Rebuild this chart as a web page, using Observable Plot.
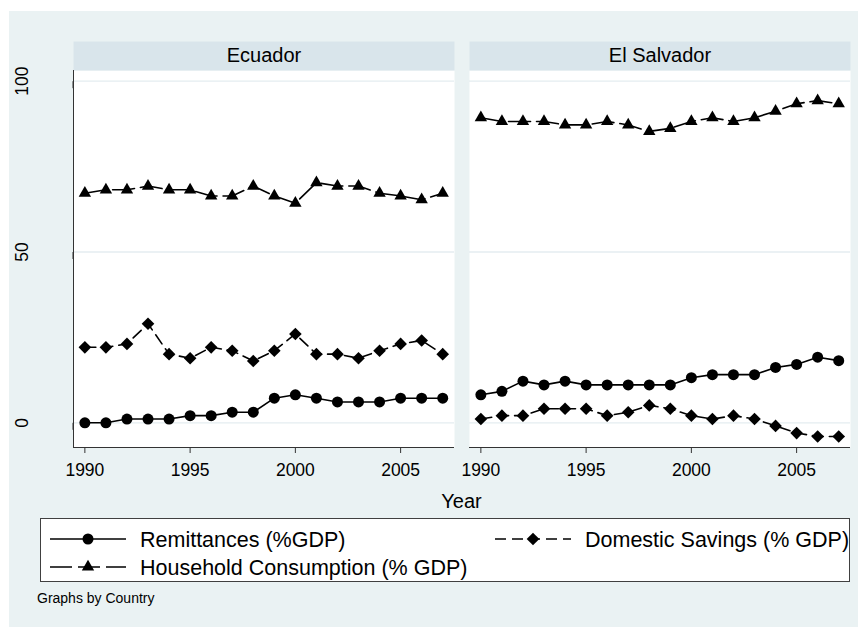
<!DOCTYPE html>
<html>
<head>
<meta charset="utf-8">
<script src="https://cdn.jsdelivr.net/npm/d3@7"></script>
<script src="https://cdn.jsdelivr.net/npm/@observablehq/plot@0.6"></script>
<style>
  body { margin: 0; background: #ffffff; font-family: "Liberation Sans", Arial, Helvetica, sans-serif; }
  #wrap { position: relative; width: 867px; height: 637px; overflow: hidden; }
  #bg { position: absolute; left: 9px; top: 11px; width: 849px; height: 616px; background: #eaf2f3; }
  #chart { position: absolute; left: 0; top: 0; }
  #xtitle { position: absolute; left: 73px; width: 777px; top: 489px; text-align: center; font-size: 20px; line-height: 24px; color: #000; }
  #legend { position: absolute; left: 40px; top: 518px; }
  #caption { position: absolute; left: 37px; top: 590px; font-size: 14px; line-height: 17px; color: #000; }
</style>
</head>
<body>
<div id="wrap">
  <div id="bg"></div>
  <div id="chart"></div>
  <div id="xtitle">Year</div>
  <div id="legend"></div>
  <div id="caption">Graphs by Country</div>
</div>
<script>
// ---------- data ----------
const years = [1990, 1991, 1992, 1993, 1994, 1995, 1996, 1997, 1998, 1999, 2000, 2001, 2002, 2003, 2004, 2005, 2006, 2007];
const countries = ["Ecuador", "El Salvador"];
const seriesNames = ["Remittances (%GDP)", "Domestic Savings (% GDP)", "Household Consumption (% GDP)"];

const ecuadorRemittances  = [0, 0, 1.1, 1.1, 1.1, 2.1, 2.1, 3.1, 3.1, 7.2, 8.2, 7.2, 6.1, 6.1, 6.1, 7.2, 7.2, 7.2];
const ecuadorSavings      = [22.1, 22.1, 23.1, 29.0, 20.1, 18.9, 22.1, 21.1, 18.1, 21.1, 26.0, 20.1, 20.1, 18.9, 21.1, 23.1, 24.1, 20.1];
const ecuadorConsumption  = [67.2, 68.2, 68.2, 69.3, 68.2, 68.2, 66.4, 66.4, 69.3, 66.4, 64.3, 70.3, 69.3, 69.3, 67.2, 66.4, 65.3, 67.2];

const salvadorRemittances = [8.2, 9.2, 12.2, 11.1, 12.2, 11.1, 11.1, 11.1, 11.1, 11.1, 13.2, 14.1, 14.1, 14.1, 16.2, 17.1, 19.2, 18.2];
const salvadorSavings     = [1.1, 2.1, 2.1, 4.1, 4.1, 4.1, 2.1, 3.1, 5.1, 4.1, 2.1, 1.1, 2.1, 1.1, -0.9, -3.0, -4.0, -4.0];
const salvadorConsumption = [89.3, 88.2, 88.2, 88.2, 87.2, 87.2, 88.2, 87.2, 85.3, 86.2, 88.2, 89.3, 88.2, 89.3, 91.2, 93.4, 94.3, 93.4];

const xTicks = [1990, 1995, 2000, 2005];
const yTicks = [0, 50, 100];

// ---------- table ----------
const valuesBy = {
  "Ecuador": [ecuadorRemittances, ecuadorSavings, ecuadorConsumption],
  "El Salvador": [salvadorRemittances, salvadorSavings, salvadorConsumption]
};
const rows = [];
countries.forEach(c => {
  seriesNames.forEach((s, si) => {
    years.forEach((y, i) => rows.push({country: c, series: s, year: y, value: valuesBy[c][si][i]}));
  });
});

// ---------- styles ----------
const styles = {
  [seriesNames[0]]: {symbol: "circle",   r: 5.5, dash: null},
  [seriesNames[1]]: {symbol: "diamond2", r: 5.7, dash: "11,6"},
  [seriesNames[2]]: {symbol: "triangle", r: 4.6, dash: "22,6"}
};
const ink = "#000000";
const axisInk = "#333333";
const gridColor = "#e4edf0";
const stripColor = "#d9e5eb";
const fontFamily = '"Liberation Sans", Arial, Helvetica, sans-serif';

const W = 867, H = 637;
const plotTop = 70, plotBottom = 447, left = 73, right = 850;
const xDomain = [1989.46, 2007.56];
const yDomain = [-7.23, 103.13];

const seriesMarks = seriesNames.flatMap(s => {
  const d = rows.filter(r => r.series === s);
  const st = styles[s];
  return [
    Plot.line(d, {fx: "country", x: "year", y: "value", stroke: ink, strokeWidth: 1.6,
                  strokeDasharray: st.dash || undefined}),
    Plot.dot(d, {fx: "country", x: "year", y: "value", symbol: st.symbol, r: st.r,
                 fill: ink, stroke: "none"})
  ];
});

const chart = Plot.plot({
  width: W,
  height: H,
  marginLeft: left,
  marginRight: W - right,
  marginTop: plotTop,
  marginBottom: H - plotBottom,
  style: {background: "transparent", fontFamily, color: ink, overflow: "visible"},
  x: {domain: xDomain},
  y: {domain: yDomain},
  fx: {domain: countries, paddingInner: 15 / 396, paddingOuter: 0, axis: null},
  marks: [
    Plot.frame({fill: "white", stroke: "none"}),
    Plot.frame({fill: stripColor, stroke: "none", insetTop: -29, insetBottom: plotBottom - plotTop}),
    Plot.text(countries, {fx: d => d, text: d => d, frameAnchor: "top", dy: -14.5,
                          lineAnchor: "middle", fontSize: 20, fill: ink}),
    Plot.ruleY(yTicks, {stroke: gridColor, strokeWidth: 1.3}),
    Plot.ruleY([yDomain[0]], {stroke: axisInk, strokeWidth: 1}),
    Plot.ruleX([countries[0]], {fx: d => d, x: () => xDomain[0], stroke: axisInk, strokeWidth: 1}),
    Plot.axisY({ticks: yTicks, tickSize: 7, tickPadding: 44.5, rotate: -90, textAnchor: "middle",
                lineAnchor: "middle", fontSize: 17.5, label: null, stroke: axisInk, fill: ink,
                tickFormat: d => String(d)}),
    Plot.axisX({ticks: xTicks, tickSize: 6, tickPadding: 10, fontSize: 17.5, label: null,
                stroke: axisInk, fill: ink, tickFormat: d => String(d)}),
    ...seriesMarks
  ]
});
document.getElementById("chart").appendChild(chart);

// ---------- legend ----------
const LW = 810, LH = 64;
const leg = d3.select("#legend").append("svg")
  .attr("width", LW + 1).attr("height", LH + 1)
  .style("overflow", "visible");
leg.append("rect").attr("x", 0.5).attr("y", 0.5).attr("width", LW - 1).attr("height", LH - 1)
  .attr("fill", "white").attr("stroke", "#404040").attr("stroke-width", 1);

const keyPos = [
  {x: 10, y: 21},
  {x: 455, y: 21},
  {x: 10, y: 49}
];
const symbolTypes = {circle: d3.symbolCircle, diamond2: d3.symbolDiamond2, triangle: d3.symbolTriangle};
seriesNames.forEach((s, i) => {
  const st = styles[s];
  const p = keyPos[i];
  const g = leg.append("g").attr("transform", `translate(${p.x},${p.y})`);
  g.append("line").attr("x1", 0).attr("x2", 76).attr("y1", 0).attr("y2", 0)
    .attr("stroke", ink).attr("stroke-width", 1.6)
    .attr("stroke-dasharray", st.dash || null);
  g.append("path")
    .attr("transform", "translate(38,0)")
    .attr("d", d3.symbol(symbolTypes[st.symbol], Math.PI * st.r * st.r)())
    .attr("fill", ink);
  g.append("text").attr("x", 90).attr("y", 0).attr("dy", "0.35em")
    .attr("font-family", fontFamily).attr("font-size", 21.5).attr("fill", ink)
    .text(s);
});
</script>
</body>
</html>
